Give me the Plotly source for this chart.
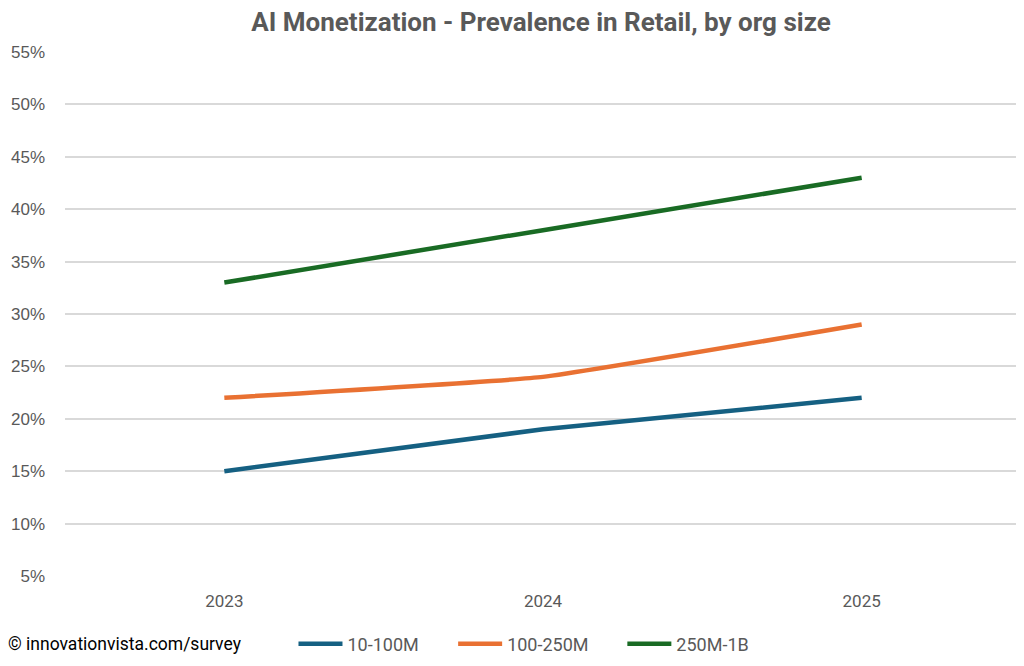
import plotly.graph_objects as go

years = ["2023", "2024", "2025"]
series_names = ["10-100M", "100-250M", "250M-1B"]
vals_10_100m = [0.15, 0.19, 0.22]
vals_100_250m = [0.22, 0.24, 0.29]
vals_250m_1b = [0.33, 0.38, 0.43]
y_ticks = [0.05, 0.10, 0.15, 0.20, 0.25, 0.30, 0.35, 0.40, 0.45, 0.50, 0.55]
colors = ["#156082", "#E97132", "#196B24"]

legend_ids = ["legend", "legend2", "legend3"]
legend_x = [0.239, 0.406, 0.583]

fig = go.Figure()
for name, vals, c, lg in zip(series_names, [vals_10_100m, vals_100_250m, vals_250m_1b], colors, legend_ids):
    fig.add_trace(go.Scatter(x=years, y=vals, name=name, mode="lines", legend=lg,
                             line=dict(color=c, width=4.5, shape="spline", smoothing=0.3)))

leg_font = dict(family="Roboto", size=18, color="#595959")
legends = {}
for lg, lx in zip(legend_ids, legend_x):
    legends[lg] = dict(orientation="h", x=lx, xanchor="left", y=-0.13, yanchor="middle",
                       font=leg_font, itemwidth=44, bgcolor="rgba(0,0,0,0)")

fig.update_layout(
    width=1016, height=658,
    paper_bgcolor="white", plot_bgcolor="white",
    margin=dict(l=54, r=3, t=44, b=85),
    title=dict(text="<b>AI Monetization - Prevalence in Retail, by org size</b>",
               x=0.5246, xanchor="center", y=1.0, yanchor="top", pad=dict(t=5),
               font=dict(family="Roboto", size=26, color="#595959")),
    xaxis=dict(type="category", range=[-0.5, 2.5], showgrid=False, zeroline=False,
               showline=False, ticks="", tickfont=dict(family="Roboto", size=17, color="#595959"),
               ticklabelstandoff=13),
    yaxis=dict(range=[0.05, 0.55], tickvals=y_ticks, tickformat=".0%", showgrid=True,
               gridcolor="#D9D9D9", gridwidth=1.5, zeroline=False, showline=False, ticks="",
               ticklabelstandoff=19,
               tickfont=dict(family="Liberation Sans", size=17, color="#595959")),
    showlegend=True,
    annotations=[dict(text="© innovationvista.com/survey", xref="paper", yref="paper",
                      x=-0.0615, xanchor="left", y=-0.13, yanchor="middle", showarrow=False,
                      font=dict(family="Roboto", size=17.5, color="#000000"))],
    **legends,
)

fig.write_html("out.html")
